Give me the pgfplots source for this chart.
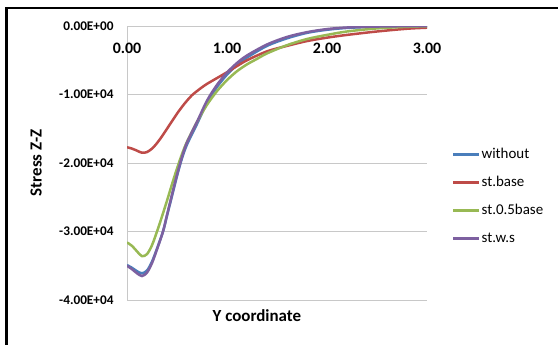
\documentclass[border=0pt]{standalone}
\usepackage{pgfplots}
\pgfplotsset{compat=1.18}
\usepackage{fontspec}
\setmainfont{Carlito}
\definecolor{cblue}{HTML}{4A7EBB}
\definecolor{cred}{HTML}{BE4B48}
\definecolor{cgreen}{HTML}{98B954}
\definecolor{cpurple}{HTML}{7D60A0}
\definecolor{cgrid}{HTML}{C8C8C8}
\begin{document}
\begin{tikzpicture}[x=1bp,y=1bp]
\useasboundingbox (0,0) rectangle (558,344);
\draw[line width=2.4bp] (6.5,-20) -- (6.5,336) -- (600,336);
\begin{axis}[
  at={(127bp,44bp)}, anchor=south west,
  scale only axis, width=300bp, height=274bp,
  xmin=0, xmax=3, ymin=-40000, ymax=0,
  scaled y ticks=false, scaled x ticks=false,
  axis x line*=top, axis y line*=left,
  axis line style={cgrid, line width=0.8bp, -},
  ymajorgrids, grid style={cgrid, line width=0.8bp},
  major tick length=0pt,
  xtick={0,1,2,3}, xticklabels={0.00,1.00,2.00,3.00},
  ytick={-40000,-30000,-20000,-10000,0},
  yticklabels={-4.00E+04,-3.00E+04,-2.00E+04,-1.00E+04,0.00E+00},
  xticklabel style={anchor=north, yshift=-14bp, font=\bfseries\fontsize{16}{18}\selectfont},
  yticklabel style={anchor=east, xshift=-10bp, font=\bfseries\fontsize{13.3}{15}\selectfont},
  xlabel={Y coordinate}, ylabel={Stress Z-Z},
  xlabel style={at={(axis description cs:0.433,-0.058)}, anchor=center, font=\bfseries\fontsize{17}{20}\selectfont},
  ylabel style={at={(axis description cs:-0.303,0.5)}, anchor=center, rotate=0, font=\bfseries\fontsize{17}{20}\selectfont},
  legend style={draw=none, fill=none, at={(axis description cs:1.083,0.378)}, anchor=west,
    font=\fontsize{15}{18}\selectfont, row sep=12bp, inner sep=0pt,
    nodes={inner sep=1bp, text height=11bp, text depth=3bp}},
  legend cell align=left,
  legend image code/.code={\draw[#1, line width=2.5bp] (0bp,0bp) -- (26bp,0bp);},
  every axis plot/.append style={line width=2.5bp, smooth, no markers},
]
\addplot[cblue] coordinates {
(0,-34900) (0.05,-35300) (0.1,-35800) (0.15,-36100) (0.2,-35700) (0.25,-34400)
(0.3,-32500) (0.36,-30000) (0.4,-27700) (0.45,-24800) (0.5,-21900) (0.55,-19300)
(0.6,-17300) (0.7,-14300) (0.8,-11200) (0.9,-8900) (1.0,-7100) (1.1,-5700)
(1.2,-4600) (1.4,-2900) (1.6,-1800) (1.8,-1000) (2.0,-550) (2.2,-280)
(2.5,-100) (2.8,-30) (3.0,0)};
\addlegendentry{without}
\addplot[cred] coordinates {
(0,-17700) (0.05,-17900) (0.1,-18200) (0.15,-18500) (0.2,-18400) (0.25,-17900)
(0.3,-17100) (0.35,-16100) (0.4,-15000) (0.45,-13900) (0.5,-12800) (0.55,-11800)
(0.6,-10900) (0.65,-10100) (0.7,-9500) (0.75,-8950) (0.8,-8450) (0.9,-7600) (1.0,-6750)
(1.1,-5850) (1.2,-5000) (1.4,-3700) (1.6,-2900) (1.8,-2200) (2.0,-1700)
(2.2,-1300) (2.5,-800) (2.8,-400) (3.0,-250)};
\addlegendentry{st.base}
\addplot[cgreen] coordinates {
(0,-31600) (0.05,-32100) (0.1,-32900) (0.15,-33600) (0.2,-33300) (0.25,-32000)
(0.3,-30000) (0.35,-27800) (0.4,-25500) (0.45,-23100) (0.5,-20800) (0.55,-18700)
(0.6,-16900) (0.7,-14000) (0.8,-11500) (0.9,-9500) (1.0,-7900) (1.1,-6600)
(1.2,-5600) (1.3,-4800) (1.4,-4000) (1.6,-2800) (1.8,-1900) (2.0,-1300)
(2.2,-800) (2.5,-350) (2.8,-120) (3.0,-50)};
\addlegendentry{st.0.5base}
\addplot[cpurple] coordinates {
(0,-35000) (0.05,-35500) (0.1,-36100) (0.15,-36500) (0.2,-36000) (0.25,-34600)
(0.3,-32600) (0.36,-30000) (0.4,-27600) (0.45,-24600) (0.5,-21700) (0.55,-19100)
(0.6,-17000) (0.7,-14000) (0.8,-10900) (0.9,-8600) (1.0,-6800) (1.1,-5400)
(1.2,-4300) (1.4,-2700) (1.6,-1600) (1.8,-900) (2.0,-450) (2.2,-220)
(2.5,-80) (2.8,-20) (3.0,0)};
\addlegendentry{st.w.s}
\end{axis}
\end{tikzpicture}
\end{document}
